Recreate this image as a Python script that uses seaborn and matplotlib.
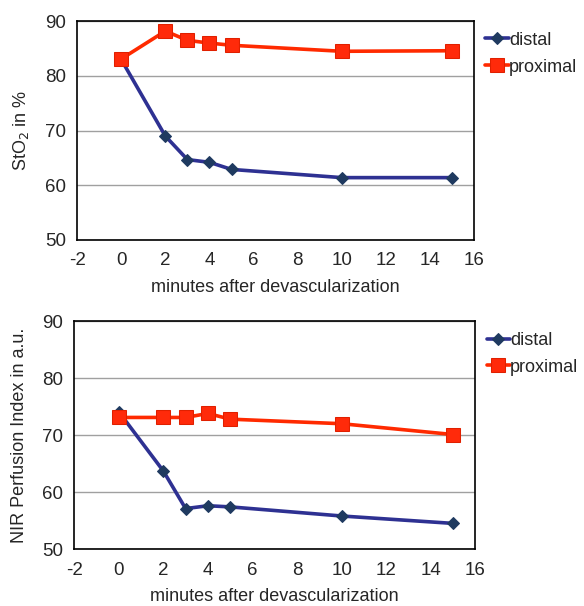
import matplotlib
matplotlib.use("Agg")
import matplotlib.pyplot as plt
import seaborn as sns

sns.set_style("white")
plt.rcParams['font.family'] = ['Liberation Sans', 'DejaVu Sans']
plt.rcParams['axes.unicode_minus'] = False

# data
minutes = [0, 2, 3, 4, 5, 10, 15]
sto2_distal = [83.0, 69.0, 64.7, 64.2, 62.9, 61.4, 61.4]
sto2_proximal = [83.1, 88.2, 86.5, 86.0, 85.6, 84.5, 84.6]
nir_distal = [74.1, 63.7, 57.1, 57.6, 57.4, 55.8, 54.5]
nir_proximal = [73.1, 73.1, 73.1, 73.8, 72.8, 72.0, 70.1]

x_ticks = [-2, 0, 2, 4, 6, 8, 10, 12, 14, 16]
y_ticks = [50, 60, 70, 80, 90]

blue_line = "#2E3192"
blue_mark = "#1F3A60"
red_line = "#FF2A00"
red_mark = "#FF2A0A"

fig = plt.figure(figsize=(5.84, 6.06), dpi=100)
ax1 = fig.add_axes([0.132, 0.604, 0.680, 0.361])
ax2 = fig.add_axes([0.127, 0.094, 0.687, 0.376])


def draw(ax, distal, proximal, ylabel):
    sns.lineplot(x=minutes, y=distal, ax=ax, color=blue_line, lw=2.6,
                 marker="D", markersize=6.5, markerfacecolor=blue_mark,
                 markeredgecolor=blue_mark, label="distal")
    sns.lineplot(x=minutes, y=proximal, ax=ax, color=red_line, lw=2.6,
                 marker="s", markersize=9.5, markerfacecolor=red_mark,
                 markeredgecolor="#E02000", label="proximal")
    ax.set_xlim(-2, 16)
    ax.set_ylim(50, 90)
    ax.set_xticks(x_ticks)
    ax.set_yticks(y_ticks)
    ax.yaxis.grid(True, color="#A0A0A0", lw=1)
    ax.set_axisbelow(True)
    for s in ax.spines.values():
        s.set_color("black")
        s.set_linewidth(1.2)
    ax.tick_params(axis="x", direction="in", length=5, width=1, color="black",
                   labelsize=13.5, pad=9)
    ax.tick_params(axis="y", length=0, labelsize=13.5, pad=8)
    ax.set_xlabel("minutes after devascularization", fontsize=13, labelpad=7)
    ax.set_ylabel(ylabel, fontsize=13, labelpad=10)
    ax.legend(loc="upper left", bbox_to_anchor=(1.01, 0.985), frameon=False,
              fontsize=13, handlelength=1.3, handletextpad=0.0,
              borderaxespad=0, labelspacing=0.55)


draw(ax1, sto2_distal, sto2_proximal, "StO$_2$ in %")
draw(ax2, nir_distal, nir_proximal, "NIR Perfusion Index in a.u.")

fig.savefig("out.png", dpi=100)
